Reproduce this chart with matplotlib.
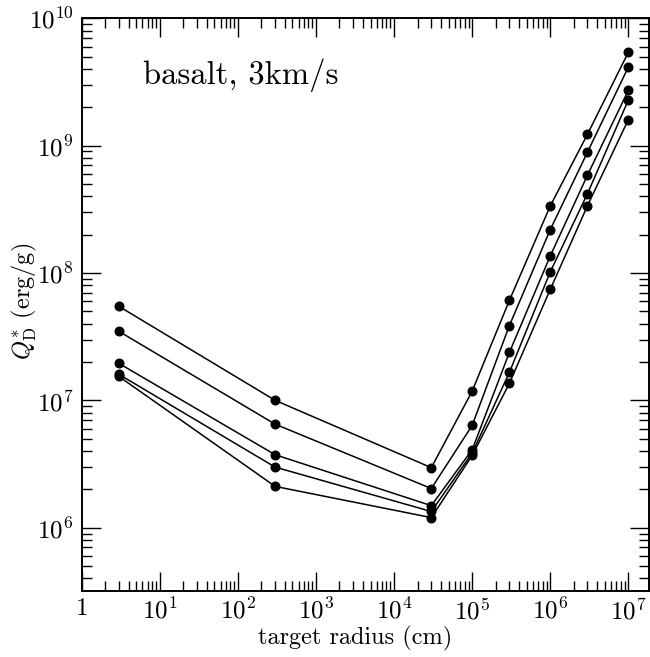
import math
import matplotlib
matplotlib.use("Agg")
import matplotlib.pyplot as plt
from matplotlib.ticker import LogLocator, FuncFormatter, NullFormatter

# Data
radius = [3, 300, 3e4, 1e5, 3e5, 1e6, 3e6, 1e7]
s1 = [5.47e7, 1.00e7, 2.96e6, 1.18e7, 6.10e7, 3.36e8, 1.23e9, 5.41e9]
s2 = [3.48e7, 6.50e6, 2.03e6, 6.35e6, 3.87e7, 2.19e8, 8.90e8, 4.14e9]
s3 = [1.95e7, 3.74e6, 1.49e6, 4.09e6, 2.38e7, 1.36e8, 5.87e8, 2.72e9]
s4 = [1.60e7, 2.99e6, 1.34e6, 3.85e6, 1.66e7, 1.02e8, 4.20e8, 2.28e9]
s5 = [1.54e7, 2.11e6, 1.20e6, 3.69e6, 1.36e7, 7.43e7, 3.38e8, 1.60e9]
series = [s1, s2, s3, s4, s5]

plt.rcParams['mathtext.fontset'] = 'cm'
plt.rcParams['font.family'] = ['cmr10', 'DejaVu Serif']
plt.rcParams['axes.unicode_minus'] = False
plt.rcParams['axes.formatter.use_mathtext'] = True

fig = plt.figure(figsize=(6.5, 6.57), dpi=100)
ax = fig.add_axes([0.1257, 0.1005, 0.8728, 0.8716])

for s in series:
    ax.plot(radius, s, color='black', lw=1.1, marker='o', ms=6.2,
            markerfacecolor='black', markeredgecolor='black')

ax.set_xscale('log')
ax.set_yscale('log')
ax.set_xlim(1, 10**7.265)
ax.set_ylim(10**5.503, 1e10)

ax.xaxis.set_major_locator(LogLocator(base=10, numticks=20))
ax.xaxis.set_minor_locator(LogLocator(base=10, subs=range(2, 10), numticks=100))
ax.yaxis.set_major_locator(LogLocator(base=10, numticks=20))
ax.yaxis.set_minor_locator(LogLocator(base=10, subs=range(2, 10), numticks=100))

def fmt(v, pos):
    e = int(round(math.log10(v)))
    if e == 0:
        return r'$1$'
    return r'$10^{%d}$' % e

ax.xaxis.set_major_formatter(FuncFormatter(fmt))
ax.yaxis.set_major_formatter(FuncFormatter(fmt))
ax.xaxis.set_minor_formatter(NullFormatter())
ax.yaxis.set_minor_formatter(NullFormatter())

ax.tick_params(which='both', direction='in', top=True, right=True,
               labelsize=18, width=1.0, color='black')
ax.tick_params(which='major', length=14)
ax.tick_params(which='minor', length=7)
ax.tick_params(axis='x', which='major', pad=5)
ax.tick_params(axis='y', which='major', pad=6)
for sp in ax.spines.values():
    sp.set_linewidth(1.4)

ax.set_xlabel('target radius (cm)', fontsize=17.5)
ax.set_ylabel(r'$Q^{*}_{\rm D}$ (erg/g)', fontsize=17.5)
ax.xaxis.set_label_coords(0.482, -0.061)
ax.yaxis.set_label_coords(-0.076, 0.505)

ax.text(0.108, 0.90, 'basalt, 3km/s', transform=ax.transAxes,
        fontsize=23.5, ha='left', va='center')

fig.savefig('out.png', dpi=100)
